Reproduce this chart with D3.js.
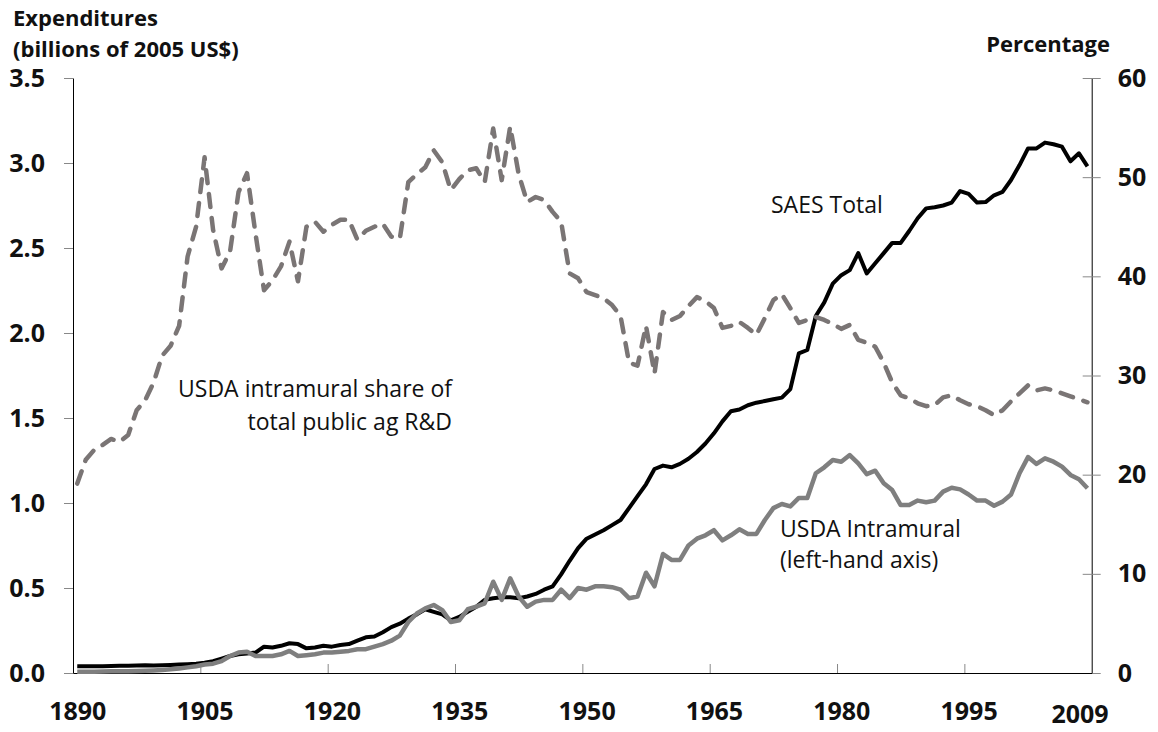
<!DOCTYPE html>
<html>
<head>
<meta charset="utf-8">
<script src="https://cdn.jsdelivr.net/npm/d3@7"></script>
<style>
  body { margin: 0; background: #fff; }
  svg { display: block; }
  text { font-family: "Open Sans", "DejaVu Sans", sans-serif; fill: #111; }
</style>
</head>
<body>
<svg width="1158" height="732"></svg>
<script>
"use strict";

// Years 1890..2009, one value per year
const years = d3.range(1890, 2010);

// SAES total, billions of 2005 US$ (left axis)
const saesTotal = [
    0.040, 0.039, 0.040, 0.040, 0.041, 0.042, 0.043, 0.044, 0.045, 0.044,
    0.045, 0.047, 0.050, 0.052, 0.055, 0.060, 0.070, 0.085, 0.100, 0.110,
    0.115, 0.120, 0.155, 0.150, 0.160, 0.175, 0.170, 0.145, 0.150, 0.160,
    0.155, 0.165, 0.170, 0.190, 0.210, 0.215, 0.240, 0.270, 0.290, 0.320,
    0.345, 0.375, 0.360, 0.345, 0.310, 0.330, 0.360, 0.390, 0.430, 0.440,
    0.445, 0.445, 0.440, 0.450, 0.465, 0.490, 0.510, 0.580, 0.660, 0.735,
    0.790, 0.815, 0.840, 0.870, 0.900, 0.970, 1.040, 1.110, 1.200, 1.220,
    1.210, 1.230, 1.260, 1.300, 1.350, 1.410, 1.480, 1.540, 1.550, 1.575,
    1.590, 1.600, 1.610, 1.620, 1.670, 1.880, 1.900, 2.100, 2.180, 2.290,
    2.340, 2.370, 2.470, 2.350, 2.410, 2.470, 2.530, 2.530, 2.600, 2.675,
    2.733, 2.740, 2.750, 2.767, 2.835, 2.818, 2.767, 2.770, 2.810, 2.830,
    2.900, 2.988, 3.086, 3.086, 3.120, 3.110, 3.096, 3.010, 3.057, 2.980
];

// USDA intramural, billions of 2005 US$ (left axis)
const usdaIntramural = [
    0.008, 0.008, 0.008, 0.009, 0.010, 0.010, 0.011, 0.012, 0.013, 0.015,
    0.018, 0.022, 0.027, 0.033, 0.040, 0.050, 0.055, 0.070, 0.100, 0.120,
    0.125, 0.100, 0.100, 0.100, 0.110, 0.130, 0.100, 0.105, 0.110, 0.120,
    0.120, 0.125, 0.130, 0.140, 0.140, 0.155, 0.170, 0.190, 0.220, 0.300,
    0.350, 0.380, 0.400, 0.370, 0.300, 0.310, 0.375, 0.390, 0.410, 0.537,
    0.430, 0.557, 0.450, 0.390, 0.420, 0.430, 0.430, 0.490, 0.440, 0.500,
    0.490, 0.510, 0.510, 0.505, 0.490, 0.440, 0.450, 0.590, 0.510, 0.700,
    0.665, 0.665, 0.750, 0.790, 0.810, 0.840, 0.780, 0.810, 0.845, 0.818,
    0.818, 0.900, 0.970, 0.994, 0.980, 1.030, 1.030, 1.175, 1.210, 1.253,
    1.243, 1.282, 1.233, 1.170, 1.190, 1.116, 1.076, 0.988, 0.988, 1.014,
    1.004, 1.014, 1.067, 1.090, 1.080, 1.050, 1.014, 1.014, 0.984, 1.008,
    1.050, 1.175, 1.270, 1.230, 1.263, 1.243, 1.214, 1.165, 1.140, 1.087
];

// USDA intramural share of total public ag R&D, percent (right axis)
const usdaShare = [
    19.1, 21.5, 22.5, 23.0, 23.6, 23.3, 24.0, 26.5, 27.5, 29.3,
    32.0, 33.0, 35.0, 42.0, 45.0, 52.0, 44.7, 40.8, 42.5, 48.5,
    50.4, 44.3, 38.6, 39.6, 41.0, 43.5, 39.5, 45.0, 45.5, 44.5,
    45.2, 45.7, 45.7, 43.7, 44.6, 45.0, 45.3, 44.0, 43.8, 49.5,
    50.3, 51.0, 52.7, 51.5, 48.7, 49.8, 50.7, 50.9, 49.5, 54.9,
    49.7, 55.1, 50.3, 47.5, 48.0, 47.7, 46.5, 45.5, 40.3, 39.8,
    38.4, 38.1, 37.8, 37.1, 36.0, 31.3, 31.0, 35.0, 30.2, 36.4,
    35.6, 36.0, 37.0, 37.9, 37.5, 36.8, 34.8, 35.0, 35.4, 34.8,
    34.1, 35.8, 37.6, 38.2, 36.8, 35.3, 35.6, 35.9, 35.6, 35.2,
    34.7, 35.1, 33.6, 33.3, 32.9, 31.3, 29.3, 28.0, 27.7, 27.2,
    26.9, 27.0, 27.8, 28.0, 27.5, 27.1, 26.9, 26.5, 26.0, 26.5,
    27.4, 28.2, 29.0, 28.5, 28.7, 28.5, 28.2, 27.9, 27.6, 27.3
];

const leftTicks = [0, 0.5, 1.0, 1.5, 2.0, 2.5, 3.0, 3.5];
const rightTicks = [0, 10, 20, 30, 40, 50, 60];
const xTickYears = [1905, 1920, 1935, 1950, 1965, 1980, 1995];
const xLabelYears = [1890, 1905, 1920, 1935, 1950, 1965, 1980, 1995];

const svg = d3.select("svg");
const plotLeft = 73, plotRight = 1091.7, plotTop = 78, plotBottom = 673;

// categories: each year is a slot, points sit in the middle of the slot
const x = d3.scaleLinear().domain([1890, 2010]).range([plotLeft, plotRight]);
const yL = d3.scaleLinear().domain([0, 3.5]).range([plotBottom, plotTop]);
const yR = d3.scaleLinear().domain([0, 60]).range([plotBottom, plotTop]);

const boldFont = g => g.selectAll("text")
    .attr("font-family", "'Open Sans', sans-serif")
    .attr("font-weight", "bold")
    .attr("font-size", 25)
    .attr("fill", "#111");

// left axis
svg.append("g")
    .attr("transform", `translate(${plotLeft},0)`)
    .call(d3.axisLeft(yL).tickValues(leftTicks).tickFormat(d3.format(".1f"))
        .tickSize(9).tickSizeOuter(0).tickPadding(19))
    .call(g => g.select(".domain").attr("stroke", "#000"))
    .call(g => g.selectAll(".tick line").attr("stroke", "#888"))
    .call(boldFont);

// right axis, ticks cross the line
svg.append("g")
    .attr("transform", `translate(${plotRight},0)`)
    .call(d3.axisRight(yR).tickValues(rightTicks)
        .tickSize(9).tickSizeOuter(0).tickPadding(17))
    .call(g => g.select(".domain").attr("stroke", "#000"))
    .call(g => g.selectAll(".tick line").attr("x1", -9).attr("stroke", "#888"))
    .call(boldFont);

// bottom axis: tick marks point up into the plot
svg.append("g")
    .attr("transform", `translate(0,${plotBottom})`)
    .call(d3.axisBottom(x).tickValues(xTickYears).tickFormat("")
        .tickSize(-9).tickSizeOuter(0))
    .call(g => g.select(".domain").attr("stroke", "#000"))
    .call(g => g.selectAll(".tick line").attr("stroke", "#888"));

// year labels centred on their slot
svg.append("g")
    .attr("transform", `translate(0,${plotBottom})`)
    .call(d3.axisBottom(x).tickValues(xLabelYears.map(d => d + 0.5))
        .tickFormat(d => Math.floor(d)).tickSize(0).tickPadding(29))
    .call(g => g.select(".domain").remove())
    .call(boldFont);

// last year label sits a little lower, set by hand in the original
svg.append("text")
    .attr("x", 1080).attr("y", 723)
    .attr("text-anchor", "middle")
    .attr("font-weight", "bold").attr("font-size", 25)
    .text("2009");

// axis titles
const leftTitle = svg.append("text")
    .attr("font-weight", "bold").attr("font-size", 22);
leftTitle.append("tspan").attr("x", 13).attr("y", 26).text("Expenditures");
leftTitle.append("tspan").attr("x", 13).attr("y", 57).text("(billions of 2005 US$)");

svg.append("text")
    .attr("x", 1110).attr("y", 52)
    .attr("text-anchor", "end")
    .attr("font-weight", "bold").attr("font-size", 22)
    .text("Percentage");

// lines
const lineL = d3.line().x((d, i) => x(years[i] + 0.5)).y(d => yL(d));
const lineR = d3.line().x((d, i) => x(years[i] + 0.5)).y(d => yR(d));

svg.append("path")
    .datum(saesTotal)
    .attr("d", lineL)
    .attr("fill", "none")
    .attr("stroke", "#000")
    .attr("stroke-width", 4)
    .attr("stroke-linejoin", "round");

svg.append("path")
    .datum(usdaIntramural)
    .attr("d", lineL)
    .attr("fill", "none")
    .attr("stroke", "#7f7f7f")
    .attr("stroke-width", 4.5)
    .attr("stroke-linejoin", "round");

svg.append("path")
    .datum(usdaShare)
    .attr("d", lineR)
    .attr("fill", "none")
    .attr("stroke", "#7a7575")
    .attr("stroke-width", 4.5)
    .attr("stroke-linecap", "round")
    .attr("stroke-linejoin", "round")
    .attr("stroke-dasharray", "13,11");

// annotations
svg.append("text")
    .attr("x", 771).attr("y", 213)
    .attr("font-size", 23)
    .text("SAES Total");

const shareNote = svg.append("text")
    .attr("text-anchor", "end")
    .attr("font-size", 23);
shareNote.append("tspan").attr("x", 452).attr("y", 397).text("USDA intramural share of");
shareNote.append("tspan").attr("x", 452).attr("y", 430).text("total public ag R&D");

const intraNote = svg.append("text")
    .attr("font-size", 23);
intraNote.append("tspan").attr("x", 780).attr("y", 537).text("USDA Intramural");
intraNote.append("tspan").attr("x", 780).attr("y", 568).text("(left-hand axis)");
</script>
</body>
</html>
